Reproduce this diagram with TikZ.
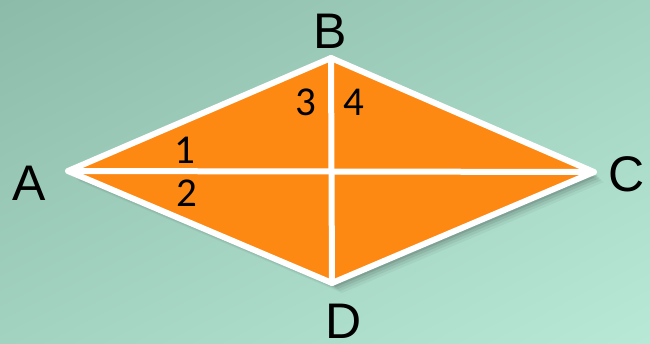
\documentclass[tikz,border=0pt]{standalone}
\usepackage{fontspec}
\setmainfont{Liberation Sans}
\newfontfamily\numfont{Carlito}
\usepackage{xcolor}
\usepackage{tikz}
\usetikzlibrary{shadings}

\definecolor{bgdark}{HTML}{8DBBA9}
\definecolor{bgmid}{HTML}{A2D2C0}
\definecolor{bglight}{HTML}{B8E8D6}
\definecolor{rhomb}{HTML}{FD8913}

\begin{document}
\begin{tikzpicture}[x=1pt, y=-1pt,
  vertex/.style={font=\fontsize{50}{50}\selectfont, inner sep=0pt},
  angnum/.style={font=\numfont\fontsize{41}{41}\selectfont, inner sep=0pt},
  edge/.style={white, line width=6pt, line join=round, line cap=round}]
% background
\shade[upper left=bgdark, lower right=bglight, upper right=bgmid, lower left=bgmid] (0,0) rectangle (650,343);
\useasboundingbox (0,0) rectangle (650,343);

\coordinate (A) at (68,171);
\coordinate (B) at (331,58);
\coordinate (C) at (594,172);
\coordinate (D) at (332,283);

% soft shadow
\foreach \s/\o in {10/0.04, 8/0.06, 6/0.08, 4/0.1}
  \fill[black, opacity=\o] ([shift={(\s,\s)}]A) -- ([shift={(\s,\s)}]B) -- ([shift={(\s,\s)}]C) -- ([shift={(\s,\s)}]D) -- cycle;

\fill[rhomb] (A) -- (B) -- (C) -- (D) -- cycle;
\draw[edge] (A) -- (C);
\draw[edge] (B) -- (D);
\draw[edge] (A) -- (B) -- (C) -- (D) -- cycle;

\node[vertex] (lA) at (29,183) {A};
\node[vertex] (lB) at (330,31) {B};
\node[vertex] (lC) at (627,174) {C};
\node[vertex] (lD) at (344,321) {D};

\node[angnum] (n1) at (185,150) {1};
\node[angnum] (n2) at (187,193) {2};
\node[angnum] (n3) at (306,102) {3};
\node[angnum] (n4) at (354,102) {4};
\end{tikzpicture}
\end{document}
